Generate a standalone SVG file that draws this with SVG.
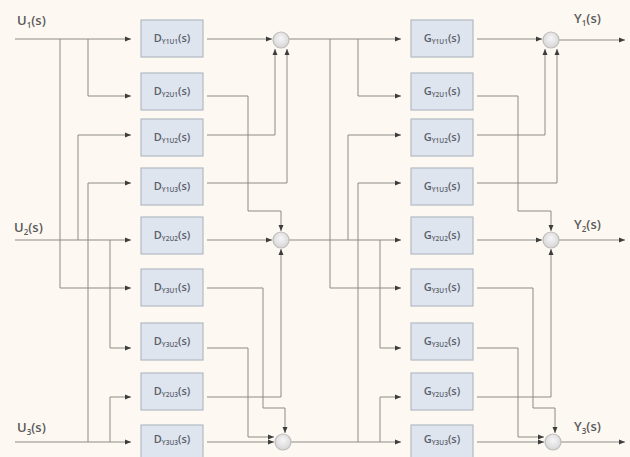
<svg xmlns="http://www.w3.org/2000/svg" width="630" height="457" viewBox="0 0 630 457">
<defs>
<marker id="ah" viewBox="0 0 6 6" refX="6" refY="3" markerWidth="6" markerHeight="6" markerUnits="userSpaceOnUse" orient="auto">
<path d="M0,0.5 L6,3 L0,5.5 z" fill="#3d3d3d"/>
</marker>
<radialGradient id="sg" cx="0.5" cy="0.4" r="0.6">
<stop offset="0" stop-color="#f6f6f6"/>
<stop offset="1" stop-color="#d6d6d6"/>
</radialGradient>
</defs>
<style>
.bg{fill:#fdf9f2}
.blk{fill:#dfe5ef;stroke:#b3bac4;stroke-width:1.2}
.lbl{font-family:"Open Sans","Liberation Sans",sans-serif;font-size:11px;font-weight:600;fill:#5a5f6b}
.sub{font-size:6.5px}
.io{font-family:"Open Sans","Liberation Sans",sans-serif;font-size:13px;font-weight:600;fill:#5a5a5a}
.ios{font-size:8px}
.w{fill:none;stroke:#8e8a84;stroke-width:1;marker-end:url(#ah)}
.sum{fill:url(#sg);stroke:#bdbdbd;stroke-width:1.2}
</style>
<rect class="bg" x="0" y="0" width="630" height="457"/>

<g id="connectors">
<g id="left-wires">
<path class="w" d="M15,39 H131"/>
<path class="w" d="M60,39 V288 H131"/>
<path class="w" d="M88,39 V96 H131"/>
<path class="w" d="M15,240 H131"/>
<path class="w" d="M78,240 V135 H131"/>
<path class="w" d="M110,240 V348 H131"/>
<path class="w" d="M15,442 H131"/>
<path class="w" d="M88,442 V183 H131"/>
<path class="w" d="M110,442 V397 H131"/>
<path class="w" d="M207,39 H272"/>
<path class="w" d="M207,96 H248 V211 H281 V231"/>
<path class="w" d="M207,135 H275 V49"/>
<path class="w" d="M207,183 H287 V49"/>
<path class="w" d="M207,240 H272"/>
<path class="w" d="M207,288 H263 V408 H285 V433"/>
<path class="w" d="M207,348 H248 V437 H274"/>
<path class="w" d="M207,397 H281 V249"/>
<path class="w" d="M207,442 H274"/>
</g>
<g id="right-wires" transform="translate(270,0)">
<path class="w" d="M19,39 H131"/>
<path class="w" d="M60,39 V288 H131"/>
<path class="w" d="M88,39 V96 H131"/>
<path class="w" d="M19,240 H131"/>
<path class="w" d="M78,240 V135 H131"/>
<path class="w" d="M110,240 V348 H131"/>
<path class="w" d="M21,442 H131"/>
<path class="w" d="M88,442 V183 H131"/>
<path class="w" d="M110,442 V397 H131"/>
<path class="w" d="M207,39 H272"/>
<path class="w" d="M207,96 H248 V211 H281 V231"/>
<path class="w" d="M207,135 H275 V49"/>
<path class="w" d="M207,183 H287 V49"/>
<path class="w" d="M207,240 H272"/>
<path class="w" d="M207,288 H263 V408 H285 V433"/>
<path class="w" d="M207,348 H248 V437 H274"/>
<path class="w" d="M207,397 H281 V249"/>
<path class="w" d="M207,442 H274"/>
</g>
<path class="w" d="M559,40 H625"/>
<path class="w" d="M559,240 H625"/>
<path class="w" d="M561,442 H625"/>
</g>

<g id="io-labels">
<text class="io" x="17" y="25">U<tspan class="ios" dy="3">1</tspan><tspan dy="-3">(s)</tspan></text>
<text class="io" x="14" y="232">U<tspan class="ios" dy="3">2</tspan><tspan dy="-3">(s)</tspan></text>
<text class="io" x="17" y="432">U<tspan class="ios" dy="3">3</tspan><tspan dy="-3">(s)</tspan></text>
<text class="io" x="574" y="23">Y<tspan class="ios" dy="3">1</tspan><tspan dy="-3">(s)</tspan></text>
<text class="io" x="574" y="229">Y<tspan class="ios" dy="3">2</tspan><tspan dy="-3">(s)</tspan></text>
<text class="io" x="574" y="431">Y<tspan class="ios" dy="3">3</tspan><tspan dy="-3">(s)</tspan></text>
</g>

<g id="D11"><rect class="blk" x="141" y="20" width="62" height="37"/><text class="lbl" x="172" y="42" text-anchor="middle">D<tspan class="sub" dy="2">Y1U1</tspan><tspan dy="-2">(s)</tspan></text></g>
<g id="D21"><rect class="blk" x="141" y="73" width="62" height="37"/><text class="lbl" x="172" y="95" text-anchor="middle">D<tspan class="sub" dy="2">Y2U1</tspan><tspan dy="-2">(s)</tspan></text></g>
<g id="D12"><rect class="blk" x="141" y="119" width="62" height="37"/><text class="lbl" x="172" y="141" text-anchor="middle">D<tspan class="sub" dy="2">Y1U2</tspan><tspan dy="-2">(s)</tspan></text></g>
<g id="D13"><rect class="blk" x="141" y="168" width="62" height="37"/><text class="lbl" x="172" y="190" text-anchor="middle">D<tspan class="sub" dy="2">Y1U3</tspan><tspan dy="-2">(s)</tspan></text></g>
<g id="D22"><rect class="blk" x="141" y="217" width="62" height="37"/><text class="lbl" x="172" y="239" text-anchor="middle">D<tspan class="sub" dy="2">Y2U2</tspan><tspan dy="-2">(s)</tspan></text></g>
<g id="D31"><rect class="blk" x="141" y="269" width="62" height="37"/><text class="lbl" x="172" y="291" text-anchor="middle">D<tspan class="sub" dy="2">Y3U1</tspan><tspan dy="-2">(s)</tspan></text></g>
<g id="D32"><rect class="blk" x="141" y="323" width="62" height="37"/><text class="lbl" x="172" y="345" text-anchor="middle">D<tspan class="sub" dy="2">Y3U2</tspan><tspan dy="-2">(s)</tspan></text></g>
<g id="D23"><rect class="blk" x="141" y="373" width="62" height="37"/><text class="lbl" x="172" y="395" text-anchor="middle">D<tspan class="sub" dy="2">Y2U3</tspan><tspan dy="-2">(s)</tspan></text></g>
<g id="D33"><rect class="blk" x="141" y="425" width="62" height="37"/><text class="lbl" x="172" y="443" text-anchor="middle">D<tspan class="sub" dy="2">Y3U3</tspan><tspan dy="-2">(s)</tspan></text></g>

<g id="G11"><rect class="blk" x="411" y="20" width="62" height="37"/><text class="lbl" x="442" y="42" text-anchor="middle">G<tspan class="sub" dy="2">Y1U1</tspan><tspan dy="-2">(s)</tspan></text></g>
<g id="G21"><rect class="blk" x="411" y="73" width="62" height="37"/><text class="lbl" x="442" y="95" text-anchor="middle">G<tspan class="sub" dy="2">Y2U1</tspan><tspan dy="-2">(s)</tspan></text></g>
<g id="G12"><rect class="blk" x="411" y="119" width="62" height="37"/><text class="lbl" x="442" y="141" text-anchor="middle">G<tspan class="sub" dy="2">Y1U2</tspan><tspan dy="-2">(s)</tspan></text></g>
<g id="G13"><rect class="blk" x="411" y="168" width="62" height="37"/><text class="lbl" x="442" y="190" text-anchor="middle">G<tspan class="sub" dy="2">Y1U3</tspan><tspan dy="-2">(s)</tspan></text></g>
<g id="G22"><rect class="blk" x="411" y="217" width="62" height="37"/><text class="lbl" x="442" y="239" text-anchor="middle">G<tspan class="sub" dy="2">Y2U2</tspan><tspan dy="-2">(s)</tspan></text></g>
<g id="G31"><rect class="blk" x="411" y="269" width="62" height="37"/><text class="lbl" x="442" y="291" text-anchor="middle">G<tspan class="sub" dy="2">Y3U1</tspan><tspan dy="-2">(s)</tspan></text></g>
<g id="G32"><rect class="blk" x="411" y="323" width="62" height="37"/><text class="lbl" x="442" y="345" text-anchor="middle">G<tspan class="sub" dy="2">Y3U2</tspan><tspan dy="-2">(s)</tspan></text></g>
<g id="G23"><rect class="blk" x="411" y="373" width="62" height="37"/><text class="lbl" x="442" y="395" text-anchor="middle">G<tspan class="sub" dy="2">Y2U3</tspan><tspan dy="-2">(s)</tspan></text></g>
<g id="G33"><rect class="blk" x="411" y="425" width="62" height="37"/><text class="lbl" x="442" y="443" text-anchor="middle">G<tspan class="sub" dy="2">Y3U3</tspan><tspan dy="-2">(s)</tspan></text></g>

<g id="S1"><circle class="sum" cx="281" cy="40" r="8"/></g>
<g id="S2"><circle class="sum" cx="281" cy="240" r="8"/></g>
<g id="S3"><circle class="sum" cx="283" cy="442" r="8"/></g>
<g id="SY1"><circle class="sum" cx="551" cy="40" r="8"/></g>
<g id="SY2"><circle class="sum" cx="551" cy="240" r="8"/></g>
<g id="SY3"><circle class="sum" cx="553" cy="442" r="8"/></g>
</svg>
